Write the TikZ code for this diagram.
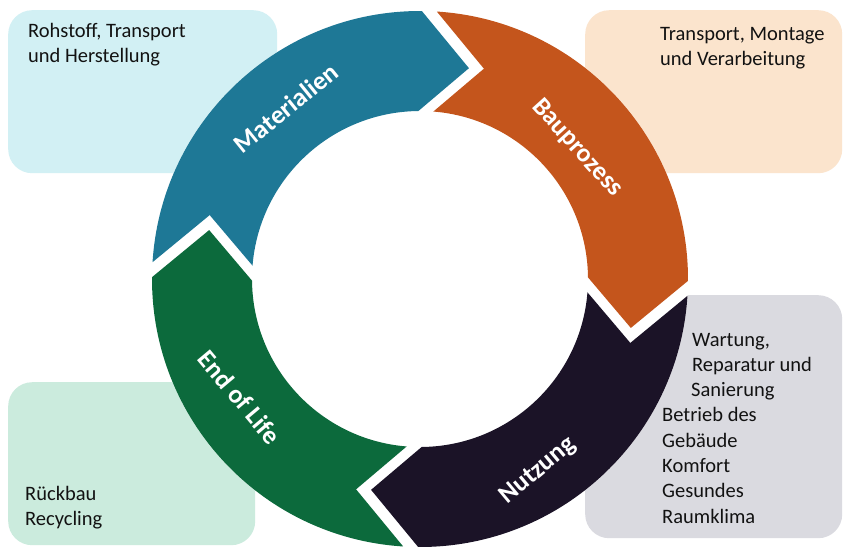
\documentclass[tikz,border=0pt]{standalone}
\usepackage{fontspec}
\setmainfont{Carlito}
\usetikzlibrary{calc}
\definecolor{cBlue}{HTML}{1E7896}
\definecolor{cOrange}{HTML}{C4551C}
\definecolor{cDark}{HTML}{1B1327}
\definecolor{cGreen}{HTML}{0C6A3C}
\definecolor{bCyan}{HTML}{D2F0F4}
\definecolor{bPeach}{HTML}{FBE4CD}
\definecolor{bGray}{HTML}{DADAE0}
\definecolor{bMint}{HTML}{CBEBDD}
\definecolor{txt}{HTML}{121212}
\def\Ro{268}\def\Ri{168}\def\Rm{218}\def\gapw{7.5}\def\tipd{13}
\newcommand\ringseg[3]{%
  \pgfmathsetmacro\aO{asin(\gapw/\Ro)}%
  \pgfmathsetmacro\aI{asin(\gapw/\Ri)}%
  \pgfmathsetmacro\sO{#2-\aO}\pgfmathsetmacro\eO{#3+\aO}%
  \pgfmathsetmacro\sI{#2-\aI}\pgfmathsetmacro\eI{#3+\aI}%
  \fill[#1] (\sO:\Ro pt) arc[start angle=\sO, end angle=\eO, radius=\Ro pt]
    -- ($(#3-\tipd:\Rm pt)+(#3+90:\gapw pt)$)
    -- (\eI:\Ri pt) arc[start angle=\eI, end angle=\sI, radius=\Ri pt]
    -- ($(#2-\tipd:\Rm pt)+(#2-90:\gapw pt)$) -- cycle;}
\begin{document}
\begin{tikzpicture}[x=1pt,y=1pt,
  infobox/.style={rounded corners=24pt, draw=none, anchor=north west, inner sep=0pt},
  boxtext/.style={anchor=base west, inner sep=0pt, text=txt, font=\fontsize{20.5}{25.3}\selectfont},
  seglabel/.style={text=white, inner sep=0pt, font=\bfseries\fontsize{26}{30}\selectfont}]
\useasboundingbox (0,0) rectangle (845,-547);
\clip (0,0) rectangle (845,-547);
\fill[white] (0,0) rectangle (845,-547);
% info boxes
\node[infobox, fill=bCyan, minimum width=269pt, minimum height=163pt] (b1) at (8,-10) {};
\node[infobox, fill=bPeach, minimum width=257pt, minimum height=163pt] (b2) at (585,-10) {};
\node[infobox, fill=bGray, minimum width=257pt, minimum height=243pt] (b3) at (585,-295) {};
\node[infobox, fill=bMint, minimum width=247pt, minimum height=163pt] (b4) at (8,-382) {};
% ring
\begin{scope}[shift={(420,-279)}]
  \fill[white] (0,0) circle[radius=\Ro pt];
  \ringseg{cBlue}{178}{88}
  \ringseg{cOrange}{88}{-2}
  \ringseg{cDark}{-2}{-92}
  \ringseg{cGreen}{-92}{-182}
\end{scope}
% segment labels
\node[seglabel, rotate=39] (l1) at (286,-108) {Materialien};
\node[seglabel, rotate=-48] (l2) at (577,-148) {Bauprozess};
\node[seglabel, rotate=40] (l3) at (538,-471) {Nutzung};
\node[seglabel, rotate=-50] (l4) at (240,-397) {End of Life};
% box texts
\node[boxtext] (t1) at (28,-37) {\vtop{\hbox{Rohstoff, Transport}\hbox{und Herstellung}}};
\node[boxtext] (t2) at (660,-40) {\vtop{\hbox{Transport, Montage}\hbox{und Verarbeitung}}};
\node[boxtext] (t3) at (662,-346) {\vtop{\hbox{\hspace{30pt}Wartung,}\hbox{\hspace{30pt}Reparatur und}\hbox{\hspace{29pt}Sanierung}\hbox{Betrieb des}\hbox{Gebäude}\hbox{Komfort}\hbox{Gesundes}\hbox{Raumklima}}};
\node[boxtext] (t4) at (25,-500) {\vtop{\hbox{Rückbau}\hbox{Recycling}}};
\end{tikzpicture}
\end{document}
